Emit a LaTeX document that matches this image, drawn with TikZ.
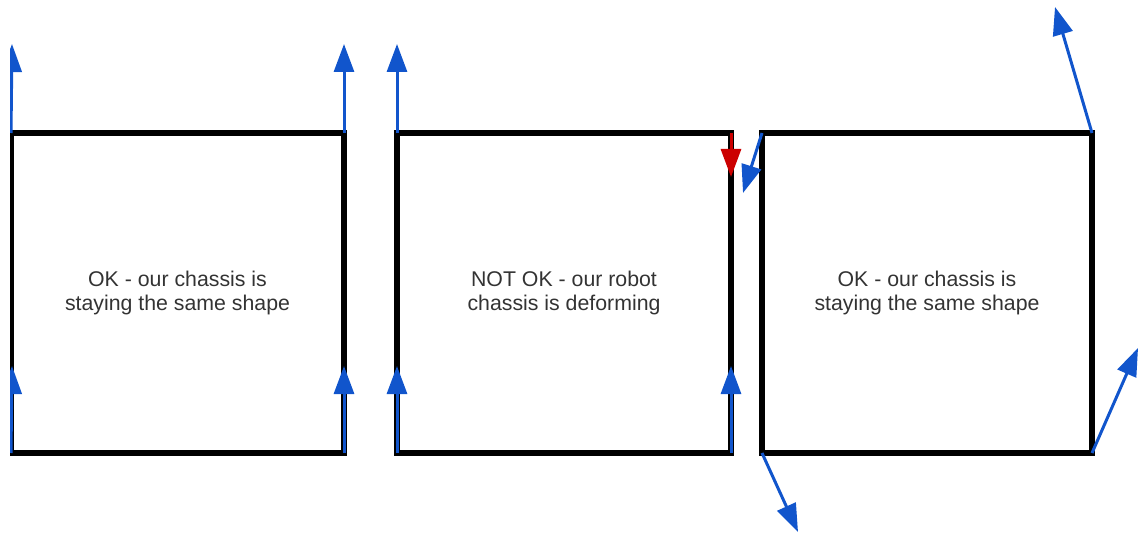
\documentclass[tikz,border=0pt]{standalone}
\usepackage{fontspec}
\setmainfont{Liberation Sans}
\usetikzlibrary{arrows.meta}
\definecolor{gblue}{HTML}{1155CC}
\definecolor{gred}{HTML}{CC0000}
\definecolor{txt}{HTML}{333333}
\begin{document}
\begin{tikzpicture}[x=1pt,y=-1pt,
  chassis/.style={draw=black,line width=6.5pt,inner sep=0pt,outer sep=0pt,
    minimum height=320pt,align=center,text=txt,
    font=\fontsize{21.3}{24.5}\selectfont},
  force/.style={draw=gblue,line width=3pt,-{Triangle[length=28pt,width=20pt]}},
  bad/.style={draw=gred,line width=3pt,-{Triangle[length=28pt,width=20pt]}}]
\useasboundingbox (0,0) rectangle (1139,534);
\begin{scope}
\clip (10,0) rectangle (1139,534);
\node[chassis,minimum width=333pt] (b1) at (177.5,293) {OK - our chassis is\\staying the same shape};
\node[chassis,minimum width=334pt] (b2) at (564,293) {NOT OK - our robot\\chassis is deforming};
\node[chassis,minimum width=330pt] (b3) at (927,293) {OK - our chassis is\\staying the same shape};
\coordinate (t1) at (12,44);
\coordinate (t2) at (344,44);
\coordinate (t3) at (397,44);
\coordinate (t4) at (12,366);
\coordinate (t5) at (344,366);
\coordinate (t6) at (397,366);
\coordinate (t7) at (731,366);
\coordinate (t8) at (731,177);
\coordinate (t9) at (743,193);
\coordinate (t10) at (798,532);
\coordinate (t11) at (1055,7);
\coordinate (t12) at (1138,348);
\draw[force] (b1.north west) -- (t1);
\draw[force] (b1.north east) -- (t2);
\draw[force] (b2.north west) -- (t3);
\draw[force] (b1.south west) -- (t4);
\draw[force] (b1.south east) -- (t5);
\draw[force] (b2.south west) -- (t6);
\draw[force] (b2.south east) -- (t7);
\draw[bad] (b2.north east) -- (t8);
\draw[force] (b3.north west) -- (t9);
\draw[force] (b3.south west) -- (t10);
\draw[force] (b3.north east) -- (t11);
\draw[force] (b3.south east) -- (t12);
\end{scope}
\end{tikzpicture}
\end{document}
